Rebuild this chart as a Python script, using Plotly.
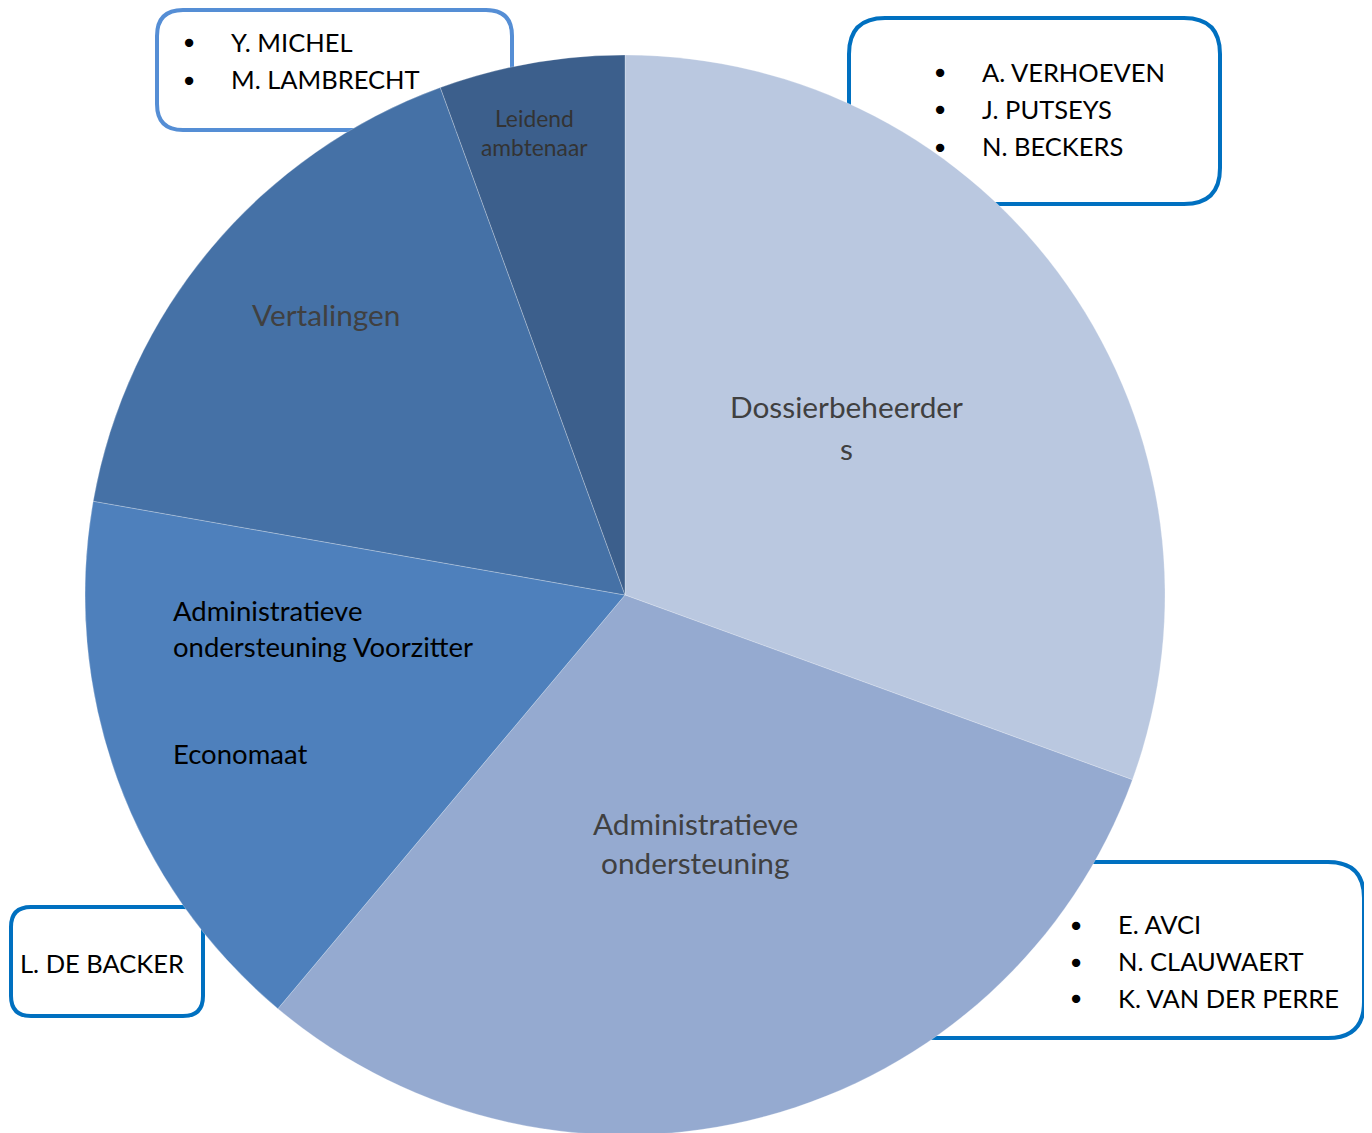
import plotly.graph_objects as go

W, H = 1372, 1133
OFF = 8  # page body margin offset

# ---- data ----
categories = ["Dossierbeheerders", "Administratieve ondersteuning",
              "Administratieve ondersteuning Voorzitter / Economaat",
              "Vertalingen", "Leidend ambtenaar"]
values = [5.5, 5.5, 3, 3, 1]
colors = ["#BAC8E0", "#95AAD0", "#4E80BC", "#4571A6", "#3C5F8C"]

names_top_left = ["Y. MICHEL", "M. LAMBRECHT"]
names_top_right = ["A. VERHOEVEN", "J. PUTSEYS", "N. BECKERS"]
names_bottom_right = ["E. AVCI", "N. CLAUWAERT", "K. VAN DER PERRE"]
names_bottom_left = ["L. DE BACKER"]

FONT = "Lato"


def px(x):
    return (x - OFF) / W


def py(y):
    return 1 - (y - OFF) / H


fig = go.Figure(go.Pie(
    labels=categories, values=values, sort=False, direction="clockwise",
    rotation=0, textinfo="none", hoverinfo="label+value",
    marker=dict(colors=colors, line=dict(color="rgba(255,255,255,0.25)", width=1)),
    domain=dict(x=[px(85), px(1165)], y=[py(1135), py(55)]),
    showlegend=False,
))


def rounded_rect(x0, y0, x1, y1, r, color):
    rx, ry = r / W, r / H
    X0, X1 = px(x0), px(x1)
    Y0, Y1 = py(y0), py(y1)  # Y0 top, Y1 bottom
    path = (f"M {X0+rx},{Y0} L {X1-rx},{Y0} Q {X1},{Y0} {X1},{Y0-ry} "
            f"L {X1},{Y1+ry} Q {X1},{Y1} {X1-rx},{Y1} "
            f"L {X0+rx},{Y1} Q {X0},{Y1} {X0},{Y1+ry} "
            f"L {X0},{Y0-ry} Q {X0},{Y0} {X0+rx},{Y0} Z")
    fig.add_shape(type="path", path=path, xref="paper", yref="paper",
                  line=dict(color=color, width=4), fillcolor="white", layer="below")


rounded_rect(157, 10, 512, 130, 26, "#558ED5")
rounded_rect(849, 18, 1220, 204, 36, "#0070C0")
rounded_rect(900, 862, 1364, 1038, 36, "#0070C0")
rounded_rect(11, 907, 203, 1016, 20, "#0070C0")


def text(x, y, s, size, color="black", xanchor="left"):
    if xanchor == "left":
        x -= 2  # compensate annotation padding
    fig.add_annotation(x=px(x), y=py(y), xref="paper", yref="paper", text=s,
                       showarrow=False, xanchor=xanchor, yanchor="middle",
                       align=xanchor if xanchor != "center" else "center",
                       font=dict(family=FONT, size=size, color=color))


NAME_SIZE = 25.5


def bullets(xb, xt, y0, names):
    for i, n in enumerate(names):
        y = y0 + 37 * i
        text(xb, y, "●", 17, xanchor="center")
        text(xt, y, n, NAME_SIZE)


bullets(189, 231, 42, names_top_left)
bullets(940, 982, 72, names_top_right)
bullets(1076, 1118, 924, names_bottom_right)
text(20, 963, names_bottom_left[0], NAME_SIZE)

gray = "#404040"
BIG = 29.8
text(846, 407, "Dossierbeheerder", BIG, gray, "center")
text(846, 448, "s", BIG, gray, "center")
text(695, 823, "Administratieve", BIG, gray, "center")
text(695, 862, "ondersteuning", BIG, gray, "center")
text(326, 314, "Vertalingen", BIG, gray, "center")
text(534, 118, "Leidend", 22.8, "#333333", "center")
text(534, 147, "ambtenaar", 22.8, "#333333", "center")
MID = 27.5
text(173, 610, "Administratieve", MID)
text(173, 646, "ondersteuning Voorzitter", MID)
text(173, 753, "Economaat", MID)

fig.update_layout(width=W, height=H, margin=dict(l=0, r=0, t=0, b=0),
                  paper_bgcolor="white", plot_bgcolor="white")

fig.write_html("out.html")
